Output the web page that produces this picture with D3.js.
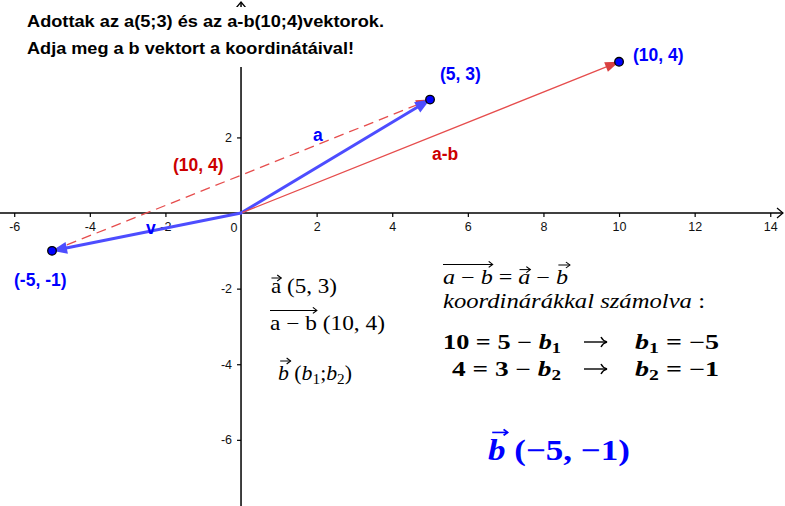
<!DOCTYPE html>
<html><head><meta charset="utf-8">
<script src="https://cdn.jsdelivr.net/npm/d3@7"></script>
<style>body{margin:0;background:#fff}svg{display:block}</style>
</head><body><svg id="c" width="785" height="506"></svg>
<script>
// ---- data ----
const xTicks = [-6, -4, -2, 2, 4, 6, 8, 10, 12, 14];
const yTicks = [2, -2, -4, -6];
const pointX = [5, 10, -5];
const pointY = [3, 4, -1];
const pointLabels = ["(5, 3)", "(10, 4)", "(-5, -1)"];
const vectorNames = ["a", "a-b", "v"];
const vectorX = [5, 10, -5];
const vectorY = [3, 4, -1];
const dashedFrom = [-5, -1];
const dashedTo = [5, 3];
const dashedLabel = "(10, 4)";
const titleLines = ["Adottak az a(5;3) és az a-b(10;4)vektorok.", "Adja meg a b vektort a koordinátáival!"];

const W = 785, H = 506;
const svg = d3.select("#c");
const x = d3.scaleLinear().domain([-6.376, 14.39]).range([0, W]);
const y = d3.scaleLinear().domain([5.635, -7.75]).range([0, H]);
const SANS = "'Liberation Sans', Arial, sans-serif";
const SERIF = "'Liberation Serif', 'Times New Roman', serif";
const BLUE = "#0000ff", RED = "#cc0000";
const VBLUE = "#4d4dff", VRED = "#e64d4d";

// ---- axes ----
const x0 = x(0), y0 = y(0);
const ax = svg.append("g").attr("transform", `translate(0,${y0})`)
  .call(d3.axisBottom(x).tickValues(xTicks).tickSize(4).tickPadding(5).tickFormat(d => String(d)));
ax.select(".domain").remove();
const ay = svg.append("g").attr("transform", `translate(${x0},0)`)
  .call(d3.axisLeft(y).tickValues(yTicks).tickSize(4).tickPadding(5).tickFormat(d => String(d)));
ay.select(".domain").remove();
svg.selectAll(".tick text").attr("font-family", SANS).attr("font-size", 12.5).attr("fill", "#111");
svg.selectAll(".tick line").attr("stroke", "#000").attr("stroke-width", 1.2);
svg.append("text").attr("x", x0 - 7).attr("y", y0 + 19).attr("text-anchor", "middle")
  .attr("font-family", SANS).attr("font-size", 12.5).attr("fill", "#111").text("0");

svg.append("line").attr("x1", 0).attr("x2", W - 2).attr("y1", y0).attr("y2", y0).attr("stroke", "#000").attr("stroke-width", 1.5);
svg.append("path").attr("d", `M${W - 8},${y0 - 5}L${W - 2},${y0}L${W - 8},${y0 + 5}`).attr("fill", "none").attr("stroke", "#000").attr("stroke-width", 1.2);
svg.append("line").attr("x1", x0).attr("x2", x0).attr("y1", 2).attr("y2", H).attr("stroke", "#000").attr("stroke-width", 1.5);
svg.append("path").attr("d", `M${x0 - 5},${8}L${x0},${2}L${x0 + 5},${8}`).attr("fill", "none").attr("stroke", "#000").attr("stroke-width", 1.2);

// ---- title box ----
svg.append("rect").attr("x", 18).attr("y", 7).attr("width", 375).attr("height", 60).attr("fill", "#fff");
const titleW = [357, 327];
titleLines.forEach((t, i) => {
  svg.append("text").attr("x", 27).attr("y", 27 + i * 27).attr("font-family", SANS)
    .attr("font-weight", "bold").attr("font-size", 16.5).attr("fill", "#000")
    .attr("textLength", titleW[i]).attr("lengthAdjust", "spacingAndGlyphs").text(t);
});

// ---- vectors ----
function arrowHead(x1, y1, x2, y2, color, len, half) {
  const px1 = x(x1), py1 = y(y1), px2 = x(x2), py2 = y(y2);
  const a = Math.atan2(py2 - py1, px2 - px1);
  const bx = px2 - len * Math.cos(a), by = py2 - len * Math.sin(a);
  const nx = -Math.sin(a) * half, ny = Math.cos(a) * half;
  svg.append("path").attr("d", `M${px2},${py2}L${bx + nx},${by + ny}L${bx - nx},${by - ny}Z`).attr("fill", color);
}
// dashed red
svg.append("line").attr("x1", x(dashedFrom[0])).attr("y1", y(dashedFrom[1]))
  .attr("x2", x(dashedTo[0]) - 8).attr("y2", y(dashedTo[1]) + 3.2)
  .attr("stroke", VRED).attr("stroke-width", 1.3).attr("stroke-dasharray", "10,6");
arrowHead(dashedFrom[0], dashedFrom[1], dashedTo[0], dashedTo[1], "#d94040", 14, 5);
// vectors from origin
vectorNames.forEach((n, i) => {
  const isRed = n === "a-b";
  const col = isRed ? VRED : VBLUE;
  const ang = Math.atan2(y(vectorY[i]) - y0, x(vectorX[i]) - x0);
  const len = isRed ? 14 : 15;
  svg.append("line").attr("x1", x0).attr("y1", y0)
    .attr("x2", x(vectorX[i]) - (len - 3) * Math.cos(ang)).attr("y2", y(vectorY[i]) - (len - 3) * Math.sin(ang))
    .attr("stroke", col).attr("stroke-width", isRed ? 1.3 : 3).attr("stroke-linecap", "round");
  arrowHead(0, 0, vectorX[i], vectorY[i], isRed ? "#d94040" : VBLUE, len, isRed ? 5 : 6);
});

// ---- points ----
pointX.forEach((px, i) => {
  svg.append("circle").attr("cx", x(px)).attr("cy", y(pointY[i])).attr("r", 4.3)
    .attr("fill", BLUE).attr("stroke", "#000").attr("stroke-width", 1.3);
});
const LBL = {"font-family": SANS, "font-size": 17.5, "font-weight": "bold"};
function lbl(px, py, t, col) {
  const e = svg.append("text").attr("x", px).attr("y", py).attr("fill", col).text(t);
  Object.entries(LBL).forEach(([k, v]) => e.attr(k, v));
}
const plOff = [[10, -20], [14, -1], [-38, 35]];
pointLabels.forEach((t, i) => lbl(x(pointX[i]) + plOff[i][0], y(pointY[i]) + plOff[i][1], t, BLUE));
// vector labels
const vlOff = [[-117, 41], [-187, 98], [94, -17]];
vectorNames.forEach((n, i) => lbl(x(vectorX[i]) + vlOff[i][0], y(vectorY[i]) + vlOff[i][1], n, n === "a-b" ? RED : BLUE));
lbl(x(dashedTo[0]) - 257, y(dashedTo[1]) + 71, dashedLabel, RED);

// ---- math text ----
function mathRow(px, py, segs, opt) {
  const g = svg.append("g");
  const size = opt.size;
  const pos = [];
  let cx = 0;
  segs.forEach(s => {
    const fs = s.sub ? size * 0.7 : size;
    const t = g.append("text").attr("x", cx).attr("y", s.sub ? size * 0.2 : 0)
      .attr("font-family", SERIF).attr("font-size", fs)
      .attr("font-style", s.it ? "italic" : "normal")
      .attr("font-weight", opt.bold ? "bold" : "normal")
      .attr("fill", opt.color || "#000").style("white-space", "pre").text(s.t);
    const w = t.node().getComputedTextLength();
    pos.push([cx, cx + w]);
    cx += w;
  });
  const sx = opt.width ? opt.width / cx : 1;
  (opt.arrows || []).forEach(a => {
    const xa = pos[a.from][0] + (a.d0 || 0) * size, xb = pos[a.to][1] + (a.d1 || 0) * size;
    const hy = -a.h * size;
    const sw = opt.bold ? 1.6 : 1;
    g.append("line").attr("x1", xa).attr("x2", xb).attr("y1", hy).attr("y2", hy)
      .attr("stroke", opt.color || "#000").attr("stroke-width", sw);
    g.append("path").attr("d", `M${xb - 4 / sx},${hy - 3}L${xb},${hy}L${xb - 4 / sx},${hy + 3}`)
      .attr("fill", "none").attr("stroke", opt.color || "#000").attr("stroke-width", sw);
  });
  const tx = opt.anchor === "end" ? px - cx * sx : px;
  g.attr("transform", `translate(${tx},${py}) scale(${sx},1)`);
}
function rightArrow(xa, xb, yy) {
  svg.append("line").attr("x1", xa).attr("x2", xb - 1).attr("y1", yy).attr("y2", yy).attr("stroke", "#000").attr("stroke-width", 1.4);
  svg.append("path").attr("d", `M${xb - 6},${yy - 5}Q${xb - 4},${yy - 1} ${xb},${yy}Q${xb - 4},${yy + 1} ${xb - 6},${yy + 5}`)
    .attr("fill", "none").attr("stroke", "#000").attr("stroke-width", 1.4);
}

// left block
mathRow(271, 293, [{t: "a"}, {t: " (5, 3)"}], {size: 20, width: 66, arrows: [{from: 0, to: 0, h: 0.75, d0: 0.02, d1: 0}]});
mathRow(270, 330, [{t: "a − b"}, {t: " (10, 4)"}], {size: 20, width: 115, arrows: [{from: 0, to: 0, h: 0.98}]});
mathRow(278, 380, [{t: "b", it: true}, {t: " ("}, {t: "b", it: true}, {t: "1", sub: true}, {t: ";"}, {t: "b", it: true}, {t: "2", sub: true}, {t: ")"}],
  {size: 20, width: 74, arrows: [{from: 0, to: 0, h: 0.95, d0: 0.1, d1: 0.08}]});

// right block
mathRow(443, 284, [{t: "a", it: true}, {t: " − "}, {t: "b", it: true}, {t: " = "}, {t: "a", it: true}, {t: " − "}, {t: "b", it: true}],
  {size: 20, width: 125, arrows: [{from: 0, to: 2, h: 0.98}, {from: 4, to: 4, h: 0.72, d0: 0.05}, {from: 6, to: 6, h: 0.95, d0: 0.1, d1: 0.08}]});
mathRow(443, 308, [{t: "koordinárákkal számolva", it: true}, {t: " :"}], {size: 20, width: 262});

mathRow(561, 349, [{t: "10 = 5 − "}, {t: "b", it: true}, {t: "1", sub: true}], {size: 20, bold: true, width: 118, anchor: "end"});
rightArrow(584, 607, 342);
mathRow(635, 349, [{t: "b", it: true}, {t: "1", sub: true}, {t: " = −5"}], {size: 20, bold: true, width: 84});
mathRow(561, 376, [{t: "4 = 3 − "}, {t: "b", it: true}, {t: "2", sub: true}], {size: 20, bold: true, width: 109, anchor: "end"});
rightArrow(584, 607, 369);
mathRow(635, 376, [{t: "b", it: true}, {t: "2", sub: true}, {t: " = −1"}], {size: 20, bold: true, width: 84});

mathRow(488, 460, [{t: "b", it: true}, {t: " (−5, −1)"}], {size: 29, bold: true, color: BLUE, width: 142,
  arrows: [{from: 0, to: 0, h: 0.95, d0: 0.12, d1: 0.06}]});
</script></body></html>
